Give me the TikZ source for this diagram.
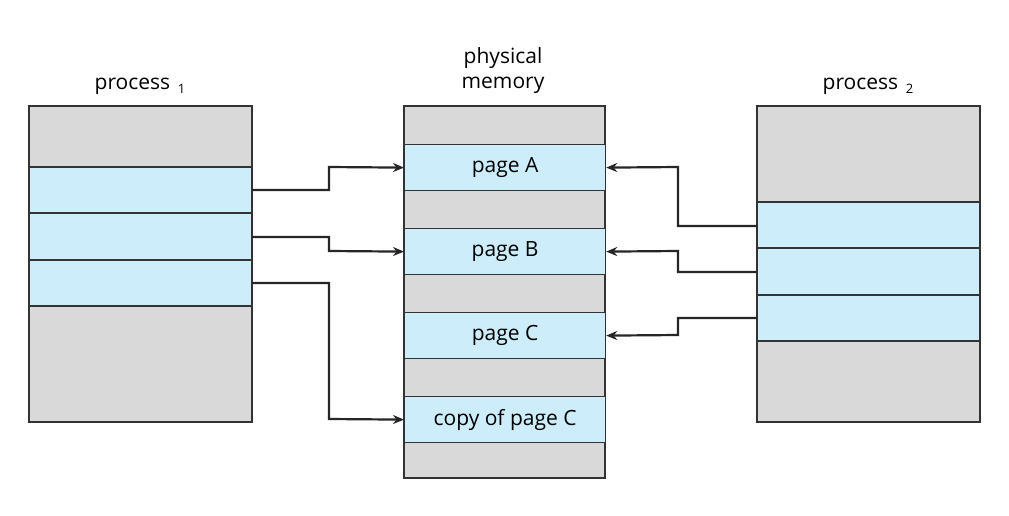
\documentclass[tikz,border=0pt]{standalone}
\usepackage{fontspec}
\setmainfont{Open Sans}
\usetikzlibrary{arrows.meta}
\definecolor{gr}{HTML}{D9D9D9}
\definecolor{bl}{HTML}{CDEDFA}
\begin{document}
\begin{tikzpicture}[x=1pt,y=-1pt,
 box/.style={draw=black!80,line width=1.2pt,fill=gr},
 band/.style={draw=black!80,line width=1.2pt,fill=bl},
 arr/.style={draw=black!85,line width=2.2pt,-{Stealth[length=11pt,width=9pt]}},
 lab/.style={font=\fontsize{21}{25}\selectfont}]
\useasboundingbox (0,0) rectangle (1009,515);
% process 1
\draw[box] (29,106) rectangle (252,422);
\draw[band] (29,167) rectangle (252,213);
\draw[band] (29,213) rectangle (252,260);
\draw[band] (29,260) rectangle (252,306);
\node[lab] (t1) at (140,86) {process \raisebox{-0.4ex}{\fontsize{13}{15}\selectfont\,1}};
% memory
\draw[box] (404,106) rectangle (605,478);
\node[band,lab,minimum width=201pt,minimum height=46pt,anchor=north west] (pa) at (404,144) {page A};
\node[band,lab,minimum width=201pt,minimum height=46pt,anchor=north west] (pb) at (404,228) {page B};
\node[band,lab,minimum width=201pt,minimum height=46pt,anchor=north west] (pc) at (404,312) {page C};
\node[band,lab,minimum width=201pt,minimum height=46pt,anchor=north west] (pd) at (404,396) {copy of page C};
\node[lab,align=center] (tm) at (503,71) {physical\\memory};
% process 2
\draw[box] (757,106) rectangle (980,422);
\draw[band] (757,202) rectangle (980,248);
\draw[band] (757,248) rectangle (980,295);
\draw[band] (757,295) rectangle (980,341);
\node[lab] (t2) at (868,86) {process \raisebox{-0.4ex}{\fontsize{13}{15}\selectfont\,2}};
% arrows
\coordinate (a1) at (252,190); \coordinate (a2) at (252,237); \coordinate (a3) at (252,283);
\coordinate (b1) at (757,226); \coordinate (b2) at (757,272); \coordinate (b3) at (757,318);
\draw[arr] (a1) -- (329,190) -- (329,167) -- (pa.west);
\draw[arr] (a2) -- (329,237) -- (329,251) -- (pb.west);
\draw[arr] (a3) -- (329,283) -- (329,419) -- (pd.west);
\draw[arr] (b1) -- (678,226) -- (678,167) -- (pa.east);
\draw[arr] (b2) -- (678,272) -- (678,251) -- (pb.east);
\draw[arr] (b3) -- (678,318) -- (678,335) -- (pc.east);
\end{tikzpicture}
\end{document}
